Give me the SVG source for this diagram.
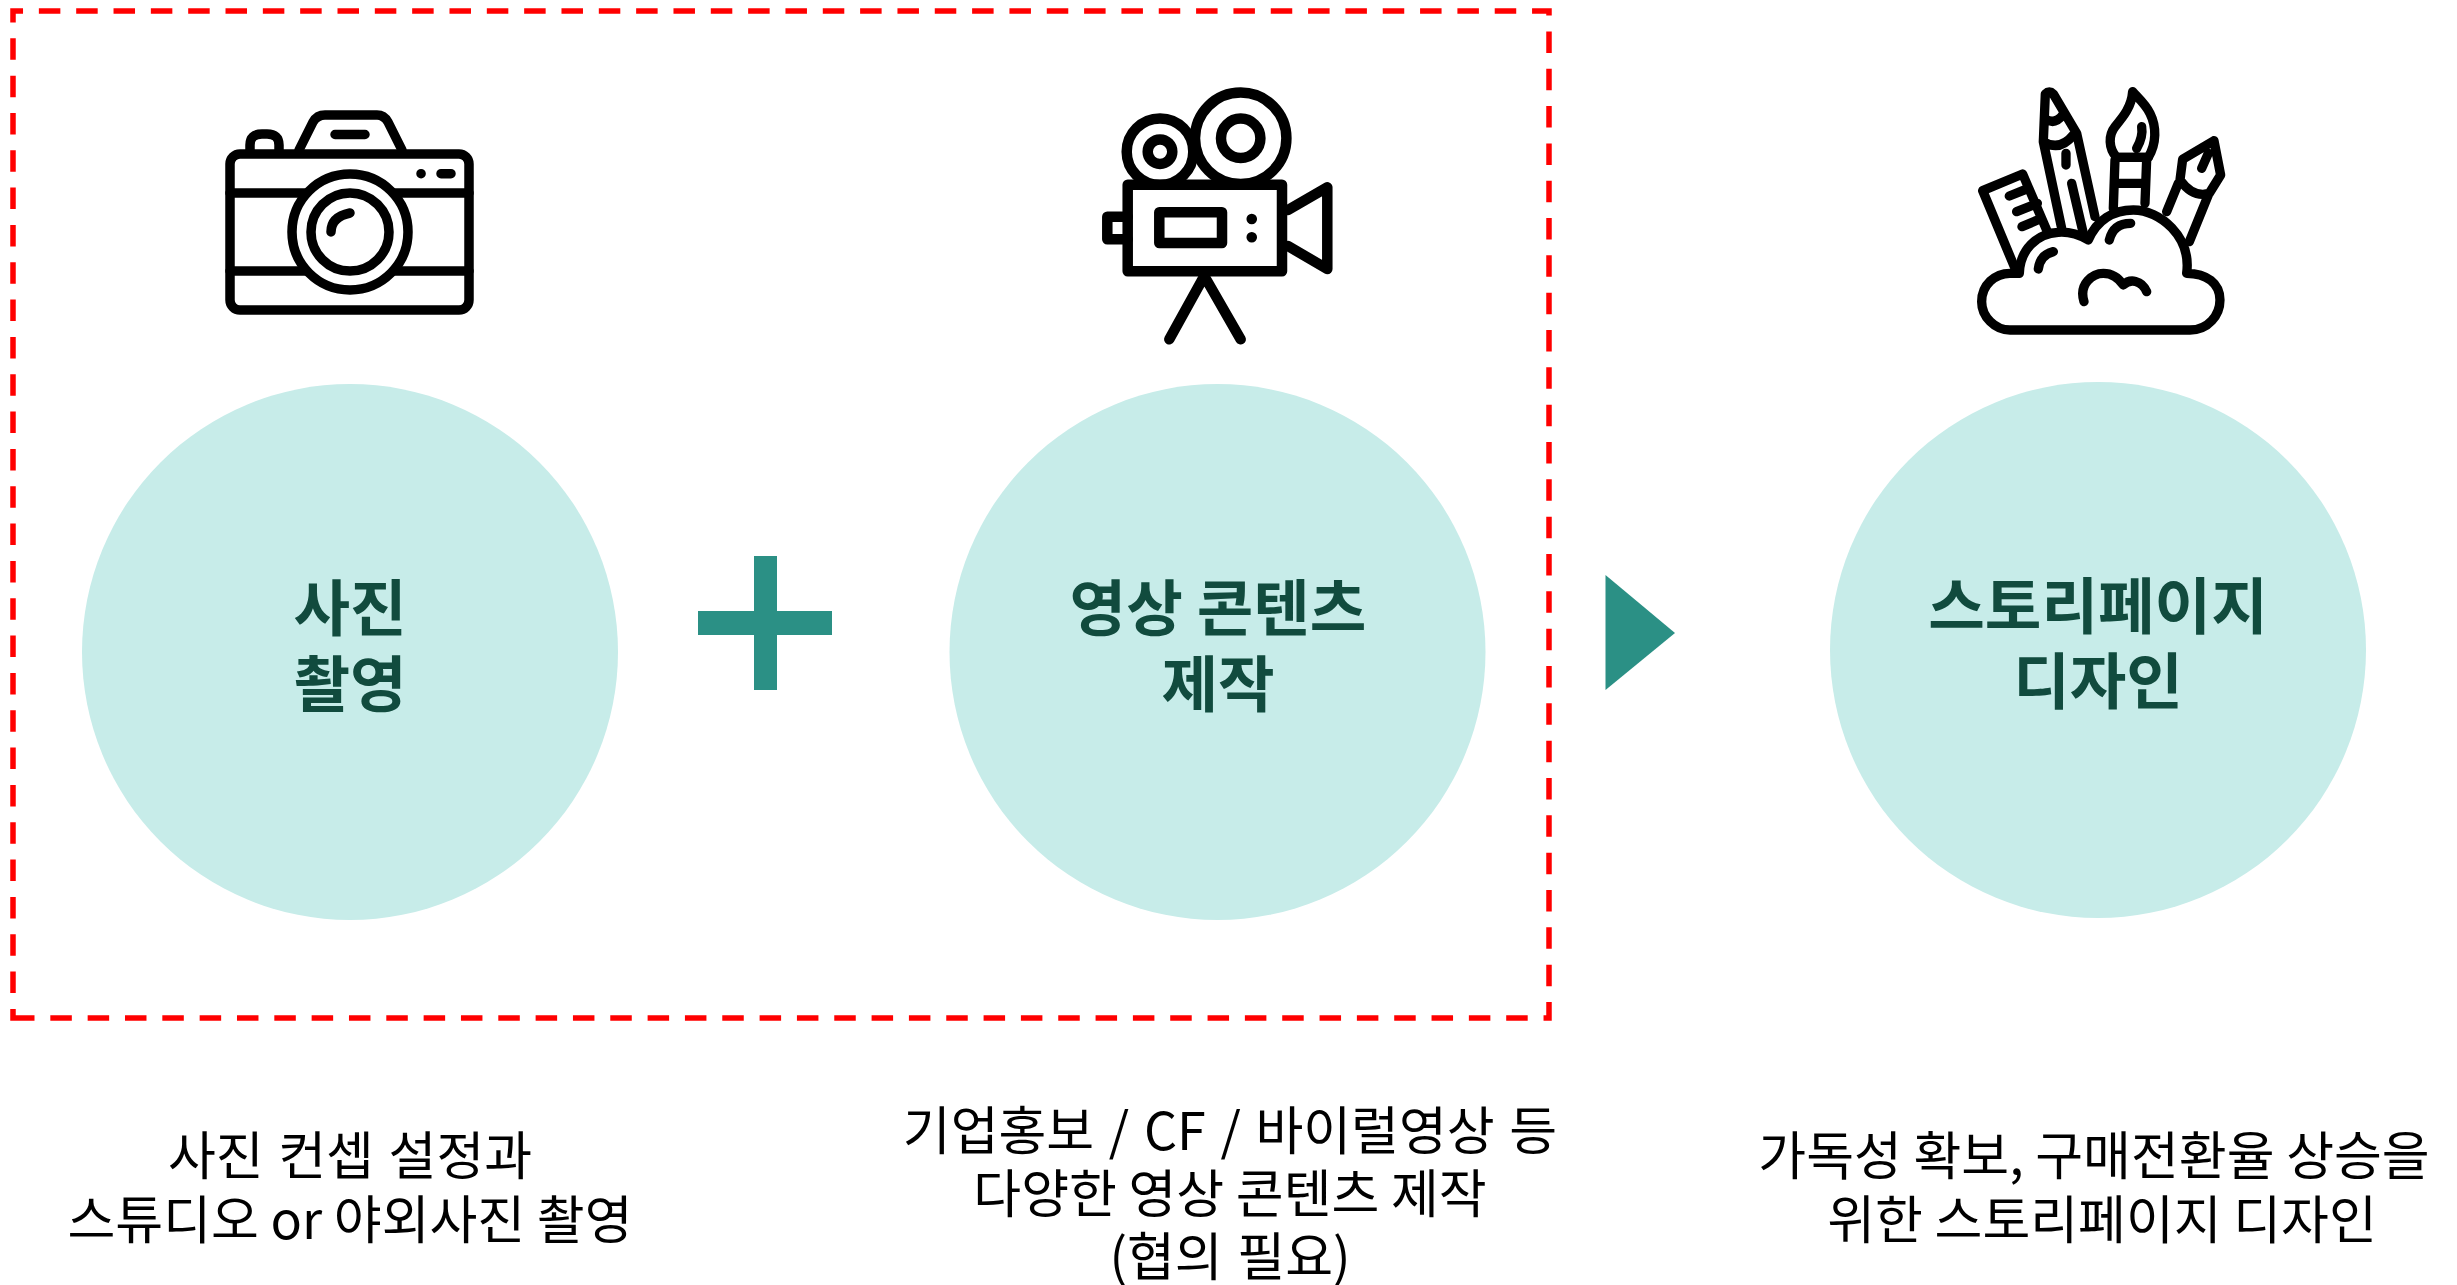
<svg xmlns="http://www.w3.org/2000/svg" width="2457" height="1285" viewBox="0 0 2457 1285">
<style>
.bg{fill:#c7ece9}
.teal{fill:#2b9085}
.ic{fill:none;stroke:#000;stroke-linecap:round;stroke-linejoin:round}
.t{font-family:"Noto Sans CJK KR","Noto Sans",sans-serif;font-size:61.500px;font-weight:700;fill:#114b3e;text-anchor:middle}
.d{font-family:"Noto Sans CJK KR","Noto Sans",sans-serif;font-size:52px;font-weight:400;fill:#000;text-anchor:middle}
.w{word-spacing:3px}
</style>
<rect width="2457" height="1285" fill="#fff"/>
<path id="frame" d="M13 1018H1549V11H13Z" fill="none" stroke="#f00" stroke-width="5.500" stroke-dasharray="21.500 15.830"/>
<g id="photo">
<circle class="bg" cx="350" cy="652" r="268"/>
<text class="t" x="350" y="631">사진</text>
<text class="t" x="350" y="707">촬영</text>
<g class="ic" stroke-width="9.500">
<rect x="230" y="154" width="239" height="156" rx="10"/>
<path d="M230 193H469M230 271H469"/>
<path d="M250 150V145Q250 134 262 134H267Q279 134 279 145V150"/>
<path d="M299 150L313 122Q317 115 325 115H377Q384 115 388 122L402 150"/>
<path d="M335 134.500H365M421 173.700h.1M441 173.700H451"/>
<circle cx="350" cy="232" r="58" fill="#fff"/>
<circle cx="350" cy="232" r="39"/>
<path d="M331 232Q331 217 350 213"/>
</g>
</g>
<g id="video">
<circle class="bg" cx="1217.500" cy="652" r="268"/>
<text class="t" x="1218" y="631">영상 콘텐츠</text>
<text class="t" x="1218" y="707">제작</text>
<g class="ic" stroke-width="10.500">
<circle cx="1160" cy="151.700" r="33.300"/>
<circle cx="1160" cy="151.700" r="12.300"/>
<circle cx="1240.700" cy="138.300" r="45.700" fill="#fff"/>
<circle cx="1240.700" cy="138.300" r="19.700"/>
<rect x="1127.700" y="184.700" width="154.300" height="86.600" fill="#fff"/>
<rect x="1159.300" y="212.300" width="62.700" height="30.700"/>
<path d="M1127.700 216.700H1107.300V239.300H1127.700"/>
<path d="M1288 210L1327.300 187.300V269L1288 246"/>
<path d="M1169.300 339.300L1204.300 276L1240.700 339.300"/>
<path d="M1251.700 219h.1M1251.700 237.300h.1"/>
</g>
</g>
<g id="design">
<circle class="bg" cx="2098" cy="650" r="268"/>
<text class="t" x="2098" y="629">스토리페이지</text>
<text class="t" x="2098" y="704">디자인</text>
<g class="ic" stroke-width="28" transform="translate(1960 70) scale(.3333)">
<path d="M165 595L68 362L188 312L262 485M148 378L205 355M170 425L232 400M186 470L245 445"/>
<path d="M305 475L250 215L256 72Q268 60 280 72L350 190L405 440M258 148Q285 165 308 135M250 215Q300 245 340 195M318 250V285M335 340L370 490"/>
<path d="M465 270L460 415M560 270L555 400M470 340H555M470 262H565"/>
<path d="M518 65C515 110 490 140 465 170C445 195 445 235 470 262H565C590 220 590 170 570 130C555 100 530 80 518 65M545 170Q550 200 530 235"/>
<path d="M762 212L668 268L660 330Q700 385 748 370L782 315ZM745 250L725 295M655 340L620 425M745 375L688 515"/>
<path fill="#fff" d="M150 780H690C745 780 780 735 780 690C780 640 740 610 680 610C695 500 600 420 520 420C460 420 410 450 385 510C350 490 320 485 295 487C230 490 180 540 178 610H150C105 610 65 645 65 695C65 740 105 780 150 780Z"/>
<path d="M280 545Q240 555 235 597M512 460Q460 460 448 510M372 695C355 640 400 610 430 610C460 610 480 630 490 645C510 625 545 630 560 665"/>
</g>
</g>
<g id="connectors">
<path id="plus" class="teal" d="M754 556H777V611H832V635H777V690H754V635H698V611H754Z"/>
<path id="arrow" class="teal" d="M1605.500 575L1675 633L1605.500 690Z"/>
</g>
<g id="captions">
<text class="d w" x="350" y="1175">사진 컨셉 설정과</text>
<text class="d" x="350" y="1239">스튜디오 or 야외사진 촬영</text>
<text class="d w" x="1230" y="1150">기업홍보 / CF / 바이럴영상 등</text>
<text class="d" x="1230" y="1213">다양한 영상 콘텐츠 제작</text>
<text class="d w" x="1230" y="1276">(협의 필요)</text>
<text class="d" x="2094" y="1175">가독성 확보, 구매전환율 상승을</text>
<text class="d" x="2102" y="1239">위한 스토리페이지 디자인</text>
</g>
</svg>
